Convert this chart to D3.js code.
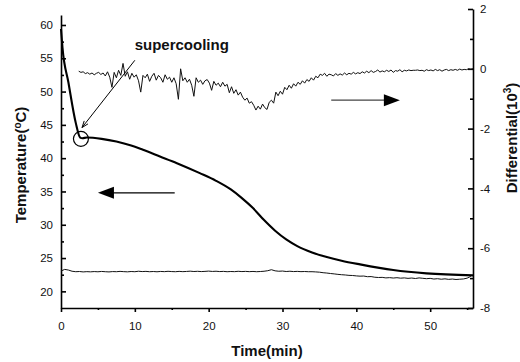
<!DOCTYPE html>
<html lang="en">
<head>
    <meta charset="UTF-8">
    <title>Temperature and differential vs time</title>
    <script src="https://d3js.org/d3.v7.min.js"></script>
    <style>
        body{
            margin: 0;
            background-color: #ffffff;
        }
        #canvas{
            display: block;
        }
        .tick text{
            font-family: "Liberation Sans", Arial, sans-serif;
            font-size: 11.5px;
            fill: #111;
        }
        .axis path, .axis line{
            stroke: #000;
            stroke-width: 1.6px;
        }
        .title{
            font-family: "Liberation Sans", Arial, sans-serif;
            font-size: 15px;
            font-weight: bold;
            fill: #111;
        }
    </style>
</head>
<body>
<svg id="canvas" width="520" height="362"></svg>

<script>
    // cooling curve (thick line)
    let tempTime  = [0, 0.2, 1.0, 2.0, 2.6, 2.9, 3.5, 5.5, 7.5, 9.5, 11.1, 13.4, 15.7, 18.8, 21.0, 23.0, 24.5, 26.0, 27.5, 29.0, 30.5, 32.0, 34.0, 36.0, 38.0, 40.5, 45.0, 49.5, 55.8]
    let tempValue = [59.4, 56.6, 51.4, 45.3, 43.1, 43.0, 43.1, 42.9, 42.5, 41.9, 41.25, 40.25, 39.25, 37.75, 36.6, 35.3, 34.0, 32.5, 30.7, 29.1, 27.8, 26.8, 25.85, 25.15, 24.6, 24.05, 23.2, 22.7, 22.4]

    // ambient temperature (thin lower line), one value every 0.5 min from t = 0
    let ambientStep = 0.5
    let ambientValue = [
        23.05, 23.30, 23.20, 23.02, 22.95, 22.98, 22.92, 22.96, 22.93, 22.97,
        22.94, 22.99, 22.95, 22.92, 22.97, 22.95, 23.00, 22.96, 22.93, 22.98,
        22.95, 23.02, 22.97, 23.00, 22.95, 22.98, 22.94, 22.99, 22.96, 23.01,
        22.97, 22.95, 23.00, 22.96, 22.99, 23.03, 22.98, 23.01, 22.97, 23.00,
        23.04, 22.99, 23.02, 22.97, 23.00, 22.95, 22.98, 22.96, 23.01, 22.97,
        23.00, 22.96, 22.99, 22.95, 22.98, 23.02, 23.10, 23.25, 23.08, 23.02,
        23.05, 22.98, 23.02, 22.97, 23.00, 22.96, 22.98, 22.95, 22.95, 22.92,
        22.88, 22.80, 22.75, 22.68, 22.62, 22.55, 22.50, 22.46, 22.40, 22.38,
        22.32, 22.28, 22.30, 22.20, 22.22, 22.12, 22.08, 22.10, 22.02, 22.06,
        22.00, 22.05, 21.98, 22.02, 21.95, 22.00, 21.93, 22.02, 21.96, 21.90,
        21.95, 21.85, 21.90, 21.82, 21.88, 21.80, 21.85, 21.78, 21.82, 21.86,
        21.98, 22.25
    ]

    // differential (noisy line, right axis, x10^3), one value every 0.3 min from t = 2.4
    let diffStart = 2.4
    let diffStep = 0.3
    let diffValue = [
        -0.08, -0.12, -0.10, -0.16, -0.13, -0.18, -0.14, -0.20, -0.15, -0.12,
        -0.19, -0.14, -0.24, -0.10, -0.28, -0.62, -0.12, -0.30, -0.05, -0.22,
         0.18, -0.25, -0.10, -0.35, -0.15, -0.28, -0.20, -0.40, -0.78, -0.22,
        -0.30, -0.18, -0.42, -0.25, -0.15, -0.38, -0.22, -0.30, -0.45, -0.20,
        -0.35, -0.28, -0.45, -0.30, -0.50, -1.02,  0.00, -0.40, -0.30, -0.45,
        -0.35, -0.55, -0.92, -0.30, -0.45, -0.38, -0.52, -0.40, -0.36, -0.48,
        -0.72, -0.42, -0.55, -0.48, -0.60, -0.45, -0.58, -0.52, -0.80, -0.60,
        -0.82, -0.70, -0.88, -0.78, -0.95, -1.05, -0.98, -1.15, -1.10, -1.22,
        -1.38, -1.25, -1.35, -1.18, -1.30, -1.36, -1.12, -1.05, -1.15, -0.78,
        -0.90, -0.75, -0.85, -0.62, -0.70, -0.55, -0.65, -0.50, -0.58, -0.45,
        -0.52, -0.40, -0.48, -0.36, -0.42, -0.30, -0.38, -0.25, -0.30, -0.18,
        -0.22, -0.15, -0.25, -0.18, -0.20, -0.24, -0.16, -0.22, -0.17, -0.21,
        -0.14, -0.20, -0.15, -0.18, -0.12, -0.17, -0.13, -0.16, -0.10, -0.14,
        -0.08, -0.13, -0.06, -0.12, -0.09, -0.04, -0.11, -0.07, -0.10, -0.05,
        -0.09, -0.04, -0.12, -0.06, -0.08, -0.03, -0.10, -0.05, -0.07, -0.04,
        -0.06, -0.05, -0.05, -0.04, -0.06, -0.05, -0.08, -0.03, -0.06, -0.04,
        -0.07, -0.02, -0.06, -0.03, -0.08, -0.04, -0.02, -0.06, -0.03, -0.05,
        -0.02, -0.05, -0.01, -0.04, -0.02, -0.03,  0.00, -0.02,  0.00
    ]

    // ticks
    let xTicks = [0, 10, 20, 30, 40, 50]
    let xMinor = [5, 15, 25, 35, 45, 55]
    let leftTicks = [20, 25, 30, 35, 40, 45, 50, 55, 60]
    let leftMinor = [22.5, 27.5, 32.5, 37.5, 42.5, 47.5, 52.5, 57.5]
    let rightTicks = [-8, -6, -4, -2, 0, 2]
    let rightMinor = [-7, -5, -3, -1, 1]

    let svg = d3.select('#canvas')

    let x = d3.scaleLinear().domain([0, 55.8]).range([61, 473])
    let yL = d3.scaleLinear().domain([17.5, 61.5]).range([308, 15])
    let yR = d3.scaleLinear().domain([-8, 2]).range([308, 9])

    // axes
    svg.append('g').attr('class', 'axis')
        .attr('transform', `translate(0,${308})`)
        .call(d3.axisBottom(x).tickValues(xTicks).tickSizeInner(4).tickSizeOuter(0).tickPadding(10))
    svg.append('g').attr('class', 'axis')
        .attr('transform', `translate(0,${308})`)
        .call(d3.axisBottom(x).tickValues(xMinor).tickSizeInner(2).tickSizeOuter(0).tickFormat(''))
        .select('.domain').remove()

    svg.append('g').attr('class', 'axis')
        .attr('transform', `translate(${61},0)`)
        .call(d3.axisLeft(yL).tickValues(leftTicks).tickSizeInner(-5).tickSizeOuter(0).tickPadding(8))
    svg.append('g').attr('class', 'axis')
        .attr('transform', `translate(${61},0)`)
        .call(d3.axisLeft(yL).tickValues(leftMinor).tickSizeInner(-3).tickSizeOuter(0).tickFormat(''))
        .select('.domain').remove()

    svg.append('g').attr('class', 'axis')
        .attr('transform', `translate(${473},0)`)
        .call(d3.axisRight(yR).tickValues(rightTicks).tickSizeInner(-5).tickSizeOuter(0).tickPadding(7)
            .tickFormat(d => String(d)))
    svg.append('g').attr('class', 'axis')
        .attr('transform', `translate(${473},0)`)
        .call(d3.axisRight(yR).tickValues(rightMinor).tickSizeInner(-3).tickSizeOuter(0).tickFormat(''))
        .select('.domain').remove()

    // lines
    let tempData = tempTime.map((t, i) => [t, tempValue[i]])
    let ambientData = ambientValue.map((v, i) => [i * ambientStep, v])
    let diffData = diffValue.map((v, i) => [diffStart + i * diffStep, v])

    svg.append('path')
        .attr('d', d3.line().x(d => x(d[0])).y(d => yL(d[1])).curve(d3.curveMonotoneX)(tempData))
        .attr('fill', 'none').attr('stroke', '#000').attr('stroke-width', 2.1)

    svg.append('path')
        .attr('d', d3.line().x(d => x(d[0])).y(d => yL(d[1]))(ambientData))
        .attr('fill', 'none').attr('stroke', '#111').attr('stroke-width', 1)

    svg.append('path')
        .attr('d', d3.line().x(d => x(d[0])).y(d => yR(d[1]))(diffData))
        .attr('fill', 'none').attr('stroke', '#111').attr('stroke-width', 1)
        .attr('stroke-linejoin', 'round')

    // supercooling marker
    svg.append('circle')
        .attr('cx', x(2.7)).attr('cy', yL(42.9)).attr('r', 7.5)
        .attr('fill', 'none').attr('stroke', '#000').attr('stroke-width', 1.2)

    let p0 = [x(10.0), yL(54.7)]
    let p1 = [x(2.85), yL(44.6)]
    svg.append('line')
        .attr('x1', p0[0]).attr('y1', p0[1]).attr('x2', p1[0]).attr('y2', p1[1])
        .attr('stroke', '#000').attr('stroke-width', 1)
    let ang = Math.atan2(p1[1] - p0[1], p1[0] - p0[0])
    let headLen = 7
    svg.append('path')
        .attr('d', `M${p1[0] - headLen * Math.cos(ang - 0.35)},${p1[1] - headLen * Math.sin(ang - 0.35)}
                    L${p1[0]},${p1[1]}
                    L${p1[0] - headLen * Math.cos(ang + 0.35)},${p1[1] - headLen * Math.sin(ang + 0.35)}`)
        .attr('fill', 'none').attr('stroke', '#000').attr('stroke-width', 1)

    svg.append('text').attr('class', 'title')
        .attr('x', x(16.35)).attr('y', yL(56.2))
        .attr('text-anchor', 'middle')
        .text('supercooling')

    // axis direction arrows
    function arrow(xFrom, xTip, yPos, stroke){
        svg.append('line')
            .attr('x1', xFrom).attr('y1', yPos).attr('x2', xTip + (xFrom > xTip ? 15 : -15)).attr('y2', yPos)
            .attr('stroke', stroke).attr('stroke-width', 1.2)
        let dir = xFrom > xTip ? 1 : -1
        svg.append('path')
            .attr('d', `M${xTip},${yPos} L${xTip + dir * 16},${yPos - 6} L${xTip + dir * 16},${yPos + 6} Z`)
            .attr('fill', '#000')
    }
    arrow(x(15.4), x(5.0), yL(34.8), '#000')
    arrow(x(36.6), x(45.9), yR(-1.05), '#444')

    // axis titles
    svg.append('text').attr('class', 'title')
        .attr('x', x(27.9)).attr('y', 356)
        .attr('text-anchor', 'middle')
        .text('Time(min)')

    let leftTitle = svg.append('text').attr('class', 'title')
        .attr('transform', `translate(${26},${165}) rotate(-90)`)
        .attr('text-anchor', 'middle')
    leftTitle.append('tspan').text('Temperature(')
    leftTitle.append('tspan').attr('dy', -5).attr('font-size', '10px').text('o')
    leftTitle.append('tspan').attr('dy', 5).text('C)')

    let rightTitle = svg.append('text').attr('class', 'title')
        .attr('transform', `translate(${517},${138}) rotate(-90)`)
        .attr('text-anchor', 'middle')
    rightTitle.append('tspan').text('Differential(10')
    rightTitle.append('tspan').attr('dy', -6).attr('font-size', '10px').text('3')
    rightTitle.append('tspan').attr('dy', 6).text(')')
</script>
</body>
</html>
